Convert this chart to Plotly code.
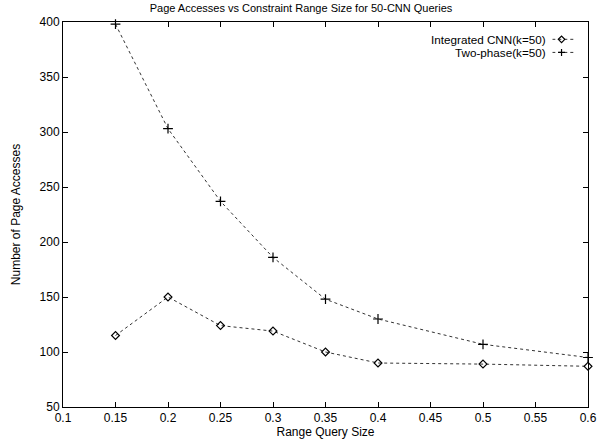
import plotly.graph_objects as go

x_vals = [0.15, 0.2, 0.25, 0.3, 0.35, 0.4, 0.5, 0.6]
integrated = [115, 150, 124, 119, 100, 90, 89, 87]
two_phase = [398, 303, 237, 186, 148, 130, 107, 95]
names = ["Integrated CNN(k=50)", "Two-phase(k=50)"]
x_ticks = [0.1, 0.15, 0.2, 0.25, 0.3, 0.35, 0.4, 0.45, 0.5, 0.55, 0.6]
y_ticks = [50, 100, 150, 200, 250, 300, 350, 400]

FONT = "Liberation Sans, Arial, Helvetica, sans-serif"
line_style = dict(color="#333333", width=1, dash="dot")
syms = ["diamond-open", "cross-thin-open"]
sizes = [6, 7]

fig = go.Figure()
for i, ys in enumerate([integrated, two_phase]):
    fig.add_trace(go.Scatter(x=x_vals, y=ys, mode="lines+markers", name=names[i],
                             line=line_style,
                             marker=dict(symbol=syms[i], size=sizes[i], color="black",
                                         line=dict(width=1.2, color="black")),
                             showlegend=False, cliponaxis=False))

# gnuplot-style legend: text then sample on the right
leg_y = [0.955, 0.921]
for i in range(2):
    fig.add_trace(go.Scatter(x=[0.0, 0.4, 1.0], y=[leg_y[i]] * 3, xaxis="x2", yaxis="y2",
                             mode="lines", line=line_style, showlegend=False, hoverinfo="skip"))
    fig.add_trace(go.Scatter(x=[0.4], y=[leg_y[i]], xaxis="x2", yaxis="y2", mode="markers",
                             marker=dict(symbol=syms[i], size=5, color="black",
                                         line=dict(width=1.2, color="black")),
                             showlegend=False, hoverinfo="skip"))
    fig.add_annotation(text=names[i], xref="paper", yref="y2", x=0.921, y=leg_y[i],
                       xanchor="right", yanchor="middle", showarrow=False, borderpad=0,
                       font=dict(family=FONT, size=11.7, color="black"))

fig.update_layout(
    width=602, height=439,
    margin=dict(l=63, r=5, t=22, b=32),
    paper_bgcolor="white", plot_bgcolor="rgba(0,0,0,0)",
    font=dict(family=FONT, size=12, color="black"),
    title=dict(text="Page Accesses vs Constraint Range Size for 50-CNN Queries",
               x=0.5, xanchor="center", y=0.982, yanchor="middle",
               font=dict(family=FONT, size=11, color="black")),
    xaxis=dict(range=[0.1, 0.6], tickvals=x_ticks, ticktext=[f"{v:g}" for v in x_ticks],
               ticks="inside", ticklen=5, tickcolor="black", showline=True, linecolor="black",
               linewidth=1, mirror="ticks", showgrid=False, zeroline=False,
               ticklabeloverflow="allow",
               title=dict(text="Range Query Size", standoff=0, font=dict(size=12))),
    yaxis=dict(range=[50, 400], tickvals=y_ticks,
               ticks="inside", ticklen=5, tickcolor="black", showline=True, linecolor="black",
               linewidth=1, mirror="ticks", showgrid=False, zeroline=False,
               title=dict(text="Number of Page Accesses", standoff=16, font=dict(size=12))),
    xaxis2=dict(domain=[0.932, 0.976], range=[0, 1], visible=False, anchor="y2"),
    yaxis2=dict(domain=[0, 1], range=[0, 1], visible=False, anchor="x2"),
)

fig.write_html("out.html")
